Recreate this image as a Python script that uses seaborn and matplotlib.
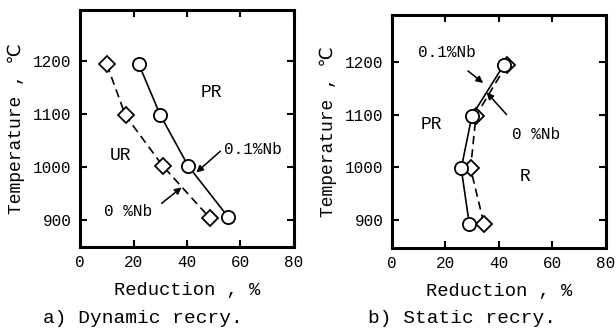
import matplotlib
matplotlib.use("Agg")
import matplotlib.pyplot as plt
import seaborn as sns
import pandas as pd

# a) Dynamic recrystallization
dyn_nb0_red = [10, 17, 31, 48.5]
dyn_nb0_temp = [1193, 1097, 1002, 905]
dyn_nb1_red = [22, 30, 40.5, 55.5]
dyn_nb1_temp = [1193, 1098, 1002, 906]

# b) Static recrystallization
sta_nb0_red = [43, 31.5, 29.5, 34.5]
sta_nb0_temp = [1195, 1098, 998, 893]
sta_nb1_red = [42, 30, 26, 29]
sta_nb1_temp = [1195, 1098, 998, 893]

xticks = [0, 20, 40, 60, 80]
yticks = [900, 1000, 1100, 1200]

sns.set_theme(style="ticks")
plt.rcParams['font.family'] = ['Liberation Mono', 'DejaVu Sans Mono', 'DejaVu Sans']
plt.rcParams['text.color'] = 'black'
plt.rcParams['axes.labelcolor'] = 'black'
plt.rcParams['xtick.color'] = 'black'
plt.rcParams['ytick.color'] = 'black'

fig = plt.figure(figsize=(6.16, 3.33), dpi=100)
ax1 = fig.add_axes([0.130, 0.258, 0.347, 0.712])
ax2 = fig.add_axes([0.636, 0.255, 0.347, 0.700])


def draw_series(ax, red, temp, marker, dashed):
    df = pd.DataFrame({"red": red, "temp": temp})
    sns.lineplot(data=df, x="red", y="temp", sort=False, estimator=None, ax=ax,
                 color="black", lw=1.2, marker=marker, markersize=9.5 if marker == "o" else 8.5,
                 markerfacecolor="white", markeredgecolor="black", markeredgewidth=1.3,
                 linestyle=(0, (5, 3)) if dashed else "-")


def style_axes(ax, ylim):
    ax.set_xlim(0, 80)
    ax.set_ylim(*ylim)
    ax.set_xticks(xticks)
    ax.set_yticks(yticks)
    ax.tick_params(direction="in", top=True, right=True, length=5, width=1.5,
                   labelsize=11.5, pad=6)
    for sp in ax.spines.values():
        sp.set_linewidth(2.2)
        sp.set_color("black")
    ax.set_xlabel("Reduction , %", fontsize=13.5, labelpad=8)
    ax.set_ylabel("Temperature , ℃", fontsize=13, labelpad=6)


def arrow(ax, tail, tip):
    ax.annotate("", xy=tip, xytext=tail,
                arrowprops=dict(arrowstyle="-|>", color="black", lw=1.1,
                                mutation_scale=10, shrinkA=0, shrinkB=0))


# panel a
draw_series(ax1, dyn_nb0_red, dyn_nb0_temp, "D", True)
draw_series(ax1, dyn_nb1_red, dyn_nb1_temp, "o", False)
style_axes(ax1, (850, 1295))
ax1.text(49, 1140, "PR", fontsize=13, ha="center", va="center")
ax1.text(15, 1021, "UR", fontsize=13, ha="center", va="center")
ax1.text(54, 1034, "0.1%Nb", fontsize=11.5, ha="left", va="center")
arrow(ax1, (52.5, 1030), (43.5, 990))
ax1.text(18, 917, "0 %Nb", fontsize=11.5, ha="center", va="center")
arrow(ax1, (30.5, 932), (38, 962))

# panel b
draw_series(ax2, sta_nb0_red, sta_nb0_temp, "D", True)
draw_series(ax2, sta_nb1_red, sta_nb1_temp, "o", False)
style_axes(ax2, (847, 1289))
ax2.text(15, 1081, "PR", fontsize=13, ha="center", va="center")
ax2.text(50, 983, "R", fontsize=13, ha="center", va="center")
ax2.text(20.5, 1218, "0.1%Nb", fontsize=11.5, ha="center", va="center")
arrow(ax2, (28.5, 1183), (34.2, 1160))
ax2.text(54, 1062, "0 %Nb", fontsize=11.5, ha="center", va="center")
arrow(ax2, (43, 1100), (35.5, 1142))

fig.text(0.232, 0.045, "a) Dynamic recry.", fontsize=14, ha="center", va="center")
fig.text(0.750, 0.045, "b) Static recry.", fontsize=14, ha="center", va="center")

fig.savefig("out.png", dpi=100)
